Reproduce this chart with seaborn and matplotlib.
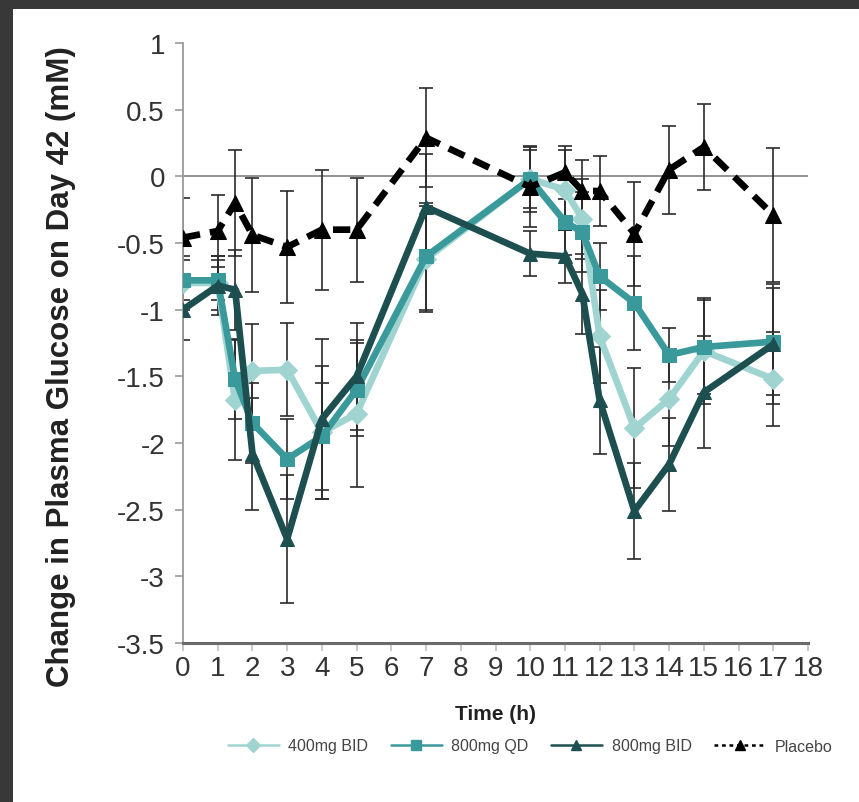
import matplotlib
matplotlib.use("Agg")
import matplotlib.pyplot as plt
import seaborn as sns
import numpy as np
import pandas as pd
from matplotlib.lines import Line2D
from matplotlib.patches import Rectangle

# ---------------- data ----------------
time_h = [0, 1, 1.5, 2, 3, 4, 5, 7, 10, 11, 11.5, 12, 13, 14, 15, 17]

bid400 = [-0.80, -0.80, -1.68, -1.46, -1.45, -1.92, -1.78, -0.62, -0.02, -0.10, -0.32, -1.20, -1.89, -1.67, -1.31, -1.52]
bid400_err = [0.20, 0.20, 0.45, 0.35, 0.35, 0.50, 0.55, 0.40, 0.25, 0.30, 0.30, 0.35, 0.45, 0.35, 0.40, 0.35]

qd800 = [-0.78, -0.78, -1.52, -1.85, -2.12, -1.95, -1.60, -0.60, -0.02, -0.34, -0.42, -0.75, -0.95, -1.34, -1.28, -1.24]
qd800_err = [0.15, 0.15, 0.30, 0.30, 0.30, 0.40, 0.35, 0.40, 0.22, 0.25, 0.30, 0.25, 0.35, 0.20, 0.35, 0.40]

bid800 = [-1.00, -0.82, -0.85, -2.08, -2.72, -1.82, -1.50, -0.23, -0.58, -0.60, -0.88, -1.68, -2.51, -2.16, -1.62, -1.26]
bid800_err = [0.23, 0.22, 0.30, 0.42, 0.48, 0.60, 0.40, 0.40, 0.17, 0.20, 0.30, 0.40, 0.36, 0.35, 0.42, 0.45]

placebo = [-0.46, -0.41, -0.20, -0.44, -0.53, -0.40, -0.40, 0.29, -0.08, 0.03, -0.11, -0.11, -0.43, 0.05, 0.22, -0.29]
placebo_err = [0.30, 0.27, 0.40, 0.43, 0.42, 0.45, 0.39, 0.37, 0.30, 0.20, 0.23, 0.26, 0.39, 0.33, 0.32, 0.50]

series_names = ["400mg BID", "800mg QD", "800mg BID", "Placebo"]
x_ticks = list(range(0, 19))
y_ticks = [1, 0.5, 0, -0.5, -1, -1.5, -2, -2.5, -3, -3.5]

# ---------------- style ----------------
sns.set_theme(style="white")
plt.rcParams['font.family'] = ['Liberation Sans', 'DejaVu Sans']

colors = {"400mg BID": "#9fd4d1", "800mg QD": "#3a9a9b",
          "800mg BID": "#1d4f50", "Placebo": "#000000"}
markers = {"400mg BID": "D", "800mg QD": "s", "800mg BID": "^", "Placebo": "^"}

fig = plt.figure(figsize=(8.59, 8.03), dpi=100)
fig.patch.set_facecolor("#383838")
fig.patches.append(Rectangle((13 / 859, 0), 1, 1 - 10 / 803, transform=fig.transFigure,
                             facecolor="white", edgecolor="none", zorder=-10))

ax = fig.add_axes([183 / 859, 1 - 644 / 803, (808 - 183) / 859, (644 - 44) / 803])
ax.set_facecolor("none")
ax.set_zorder(5)

data = {"400mg BID": (bid400, bid400_err), "800mg QD": (qd800, qd800_err),
        "800mg BID": (bid800, bid800_err), "Placebo": (placebo, placebo_err)}

ax.axhline(0, color="#8a8a8a", lw=1.3, zorder=1)

for name in series_names:
    vals, errs = data[name]
    df = pd.DataFrame({"t": time_h, "v": vals})
    ax.errorbar(time_h, vals, yerr=errs, fmt="none", ecolor="#2b2b2b", elinewidth=1.2,
                capsize=5, capthick=1.2, zorder=2)
    ls = (0, (2.6, 1.5)) if name == "Placebo" else "-"
    ms = 10 if name != "Placebo" else 11
    sns.lineplot(data=df, x="t", y="v", ax=ax, color=colors[name], lw=4.8,
                 linestyle=ls, marker=markers[name], markersize=ms,
                 markeredgecolor=colors[name], estimator=None, sort=False, zorder=3)

ax.set_xlim(0, 18)
ax.set_ylim(-3.5, 1)
ax.set_xticks(x_ticks)
ax.set_xticklabels([str(t) for t in x_ticks])
ax.set_yticks(y_ticks)
ax.set_yticklabels([f"{v:g}" for v in y_ticks])

for s in ["top", "right"]:
    ax.spines[s].set_visible(False)
ax.spines["left"].set_color("#9a9a9a")
ax.spines["left"].set_linewidth(1.3)
ax.spines["bottom"].set_color("#6a6a6a")
ax.spines["bottom"].set_linewidth(2.2)

ax.tick_params(axis="y", which="major", direction="out", length=6, width=1.2,
               color="#9a9a9a", labelsize=20, labelcolor="#333333", pad=7, left=True)
ax.tick_params(axis="x", which="major", direction="out", length=6, width=1.2,
               color="#c0c0c0", labelsize=20, labelcolor="#333333", pad=3, bottom=True)

ax.set_xlabel("Time (h)", fontsize=15, fontweight="bold", color="#222222", labelpad=16)
ax.set_ylabel("Change in Plasma Glucose on Day 42 (mM)", fontsize=22.5,
              fontweight="bold", color="#222222")
ax.yaxis.set_label_coords(-0.172, 0.462)

handles = []
for name in series_names:
    ls = (0, (1.5, 1.5)) if name == "Placebo" else "-"
    handles.append(Line2D([0], [0], color=colors[name], lw=1.8, linestyle=ls,
                          marker=markers[name], markersize=7,
                          markeredgecolor=colors[name]))
fig.legend(handles, series_names, loc="center", bbox_to_anchor=(530 / 859, 1 - 747 / 803),
           ncol=4, frameon=False, fontsize=11.5, handlelength=3.2, columnspacing=1.4,
           handletextpad=0.6, labelcolor="#444444")

fig.savefig("out.png", dpi=100, facecolor=fig.get_facecolor())
